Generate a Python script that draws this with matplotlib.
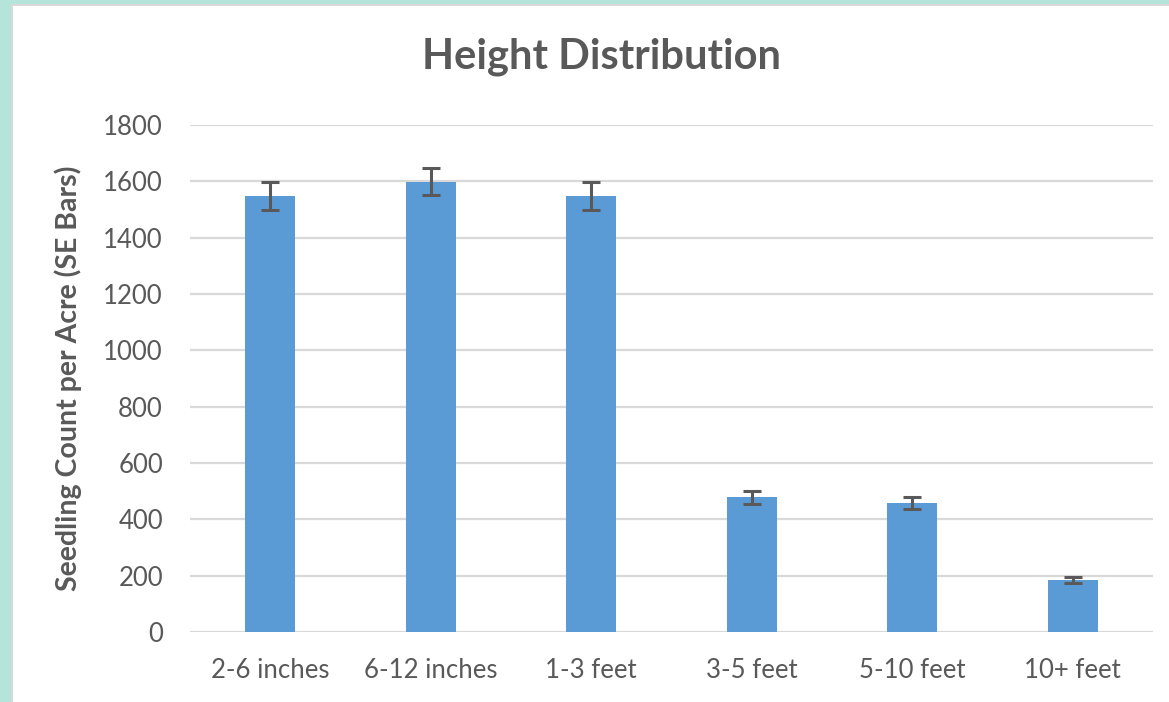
import matplotlib.pyplot as plt
from matplotlib.patches import Rectangle

categories = ['2-6 inches', '6-12 inches', '1-3 feet', '3-5 feet', '5-10 feet', '10+ feet']
counts = [1548, 1598, 1548, 479, 458, 185]
se = [50, 48, 51, 23, 22, 12]

plt.rcParams['font.family'] = ['Lato', 'DejaVu Sans']

fig = plt.figure(figsize=(11.69, 7.02), dpi=100)
fig.patch.set_facecolor('white')

# teal frame on the left and top, as in the screenshot
fig.patches.append(Rectangle((0, 0), 11 / 1169, 1, transform=fig.transFigure,
                             facecolor='#B4E4DA', edgecolor='none', zorder=0))
fig.patches.append(Rectangle((0, 1 - 4 / 702), 1, 4 / 702, transform=fig.transFigure,
                             facecolor='#B4E4DA', edgecolor='none', zorder=0))
fig.patches.append(Rectangle((11 / 1169, 0), 2 / 1169, 1 - 4 / 702, transform=fig.transFigure,
                             facecolor='#D9D9D9', edgecolor='none', zorder=0))
fig.patches.append(Rectangle((11 / 1169, 1 - 6 / 702), 1, 2 / 702, transform=fig.transFigure,
                             facecolor='#D9D9D9', edgecolor='none', zorder=0))

ax = fig.add_axes([190 / 1169, 1 - 632 / 702, 963 / 1169, 507 / 702])
x = range(len(categories))
ax.bar(x, counts, width=0.31, color='#5B9BD5', zorder=3)
ax.errorbar(x, counts, yerr=se, fmt='none', ecolor='#595959', elinewidth=2.2,
            capsize=6.5, capthick=2.2, zorder=4)

ax.set_xlim(-0.5, len(categories) - 0.5)
ax.set_ylim(0, 1800)
ax.set_yticks(range(0, 1801, 200))
ax.set_xticks(list(x))
ax.set_xticklabels(categories)
ax.yaxis.grid(True, color='#D9D9D9', linewidth=1.6, zorder=0)
for s in ax.spines.values():
    s.set_visible(False)
ax.tick_params(length=0, labelsize=18.5, colors='#595959')
ax.tick_params(axis='x', pad=19)
ax.tick_params(axis='y', pad=19.5)

ax.set_ylabel('Seedling Count per Acre (SE Bars)', fontsize=20.5, fontweight='bold',
              color='#595959', labelpad=15)
fig.text(601 / 1169, 1 - 57 / 702, 'Height Distribution', fontsize=30, fontweight='bold',
         color='#595959', ha='center', va='center')

fig.savefig('out.png', dpi=100)
